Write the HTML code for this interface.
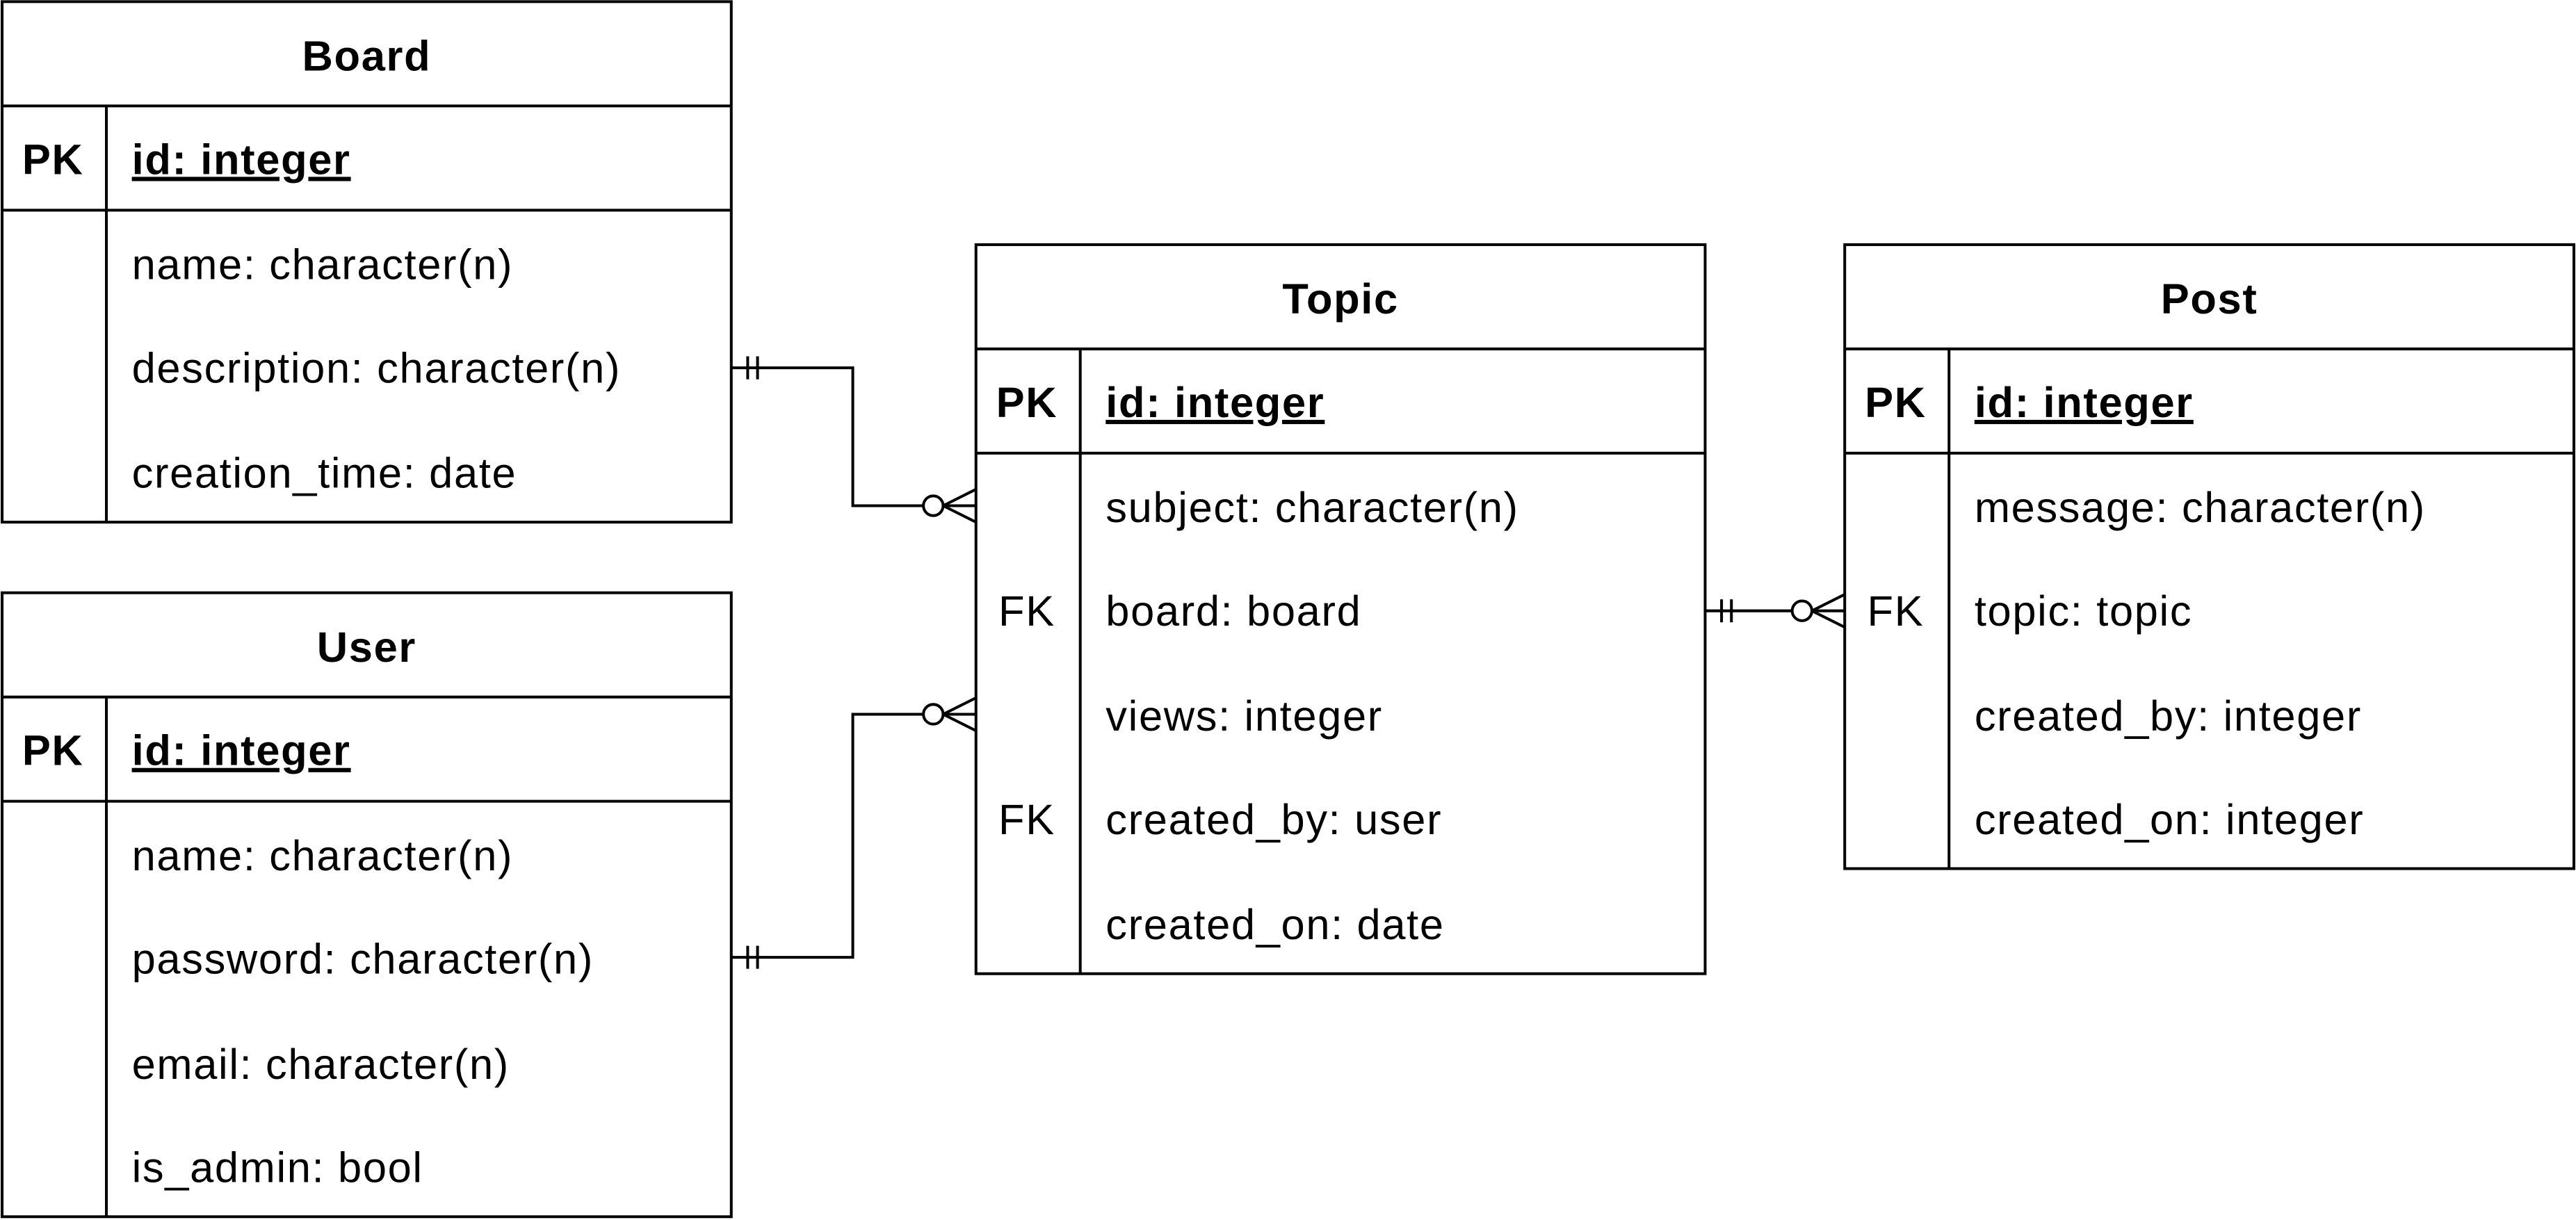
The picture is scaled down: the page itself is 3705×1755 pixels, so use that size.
<!DOCTYPE html>
<html><head><meta charset="utf-8"><style>
html,body{margin:0;padding:0;background:#fff}
svg{display:block}
text{font-family:"Liberation Sans",Arial,sans-serif;font-size:26px;letter-spacing:0.7px;fill:#000}
.b{font-weight:bold}
</style></head><body>
<svg width="3705" height="1755" viewBox="0 0 1568 743" xmlns="http://www.w3.org/2000/svg">
<g fill="none" stroke="#000" stroke-width="1.7">
<rect x="1" y="1" width="444" height="317"/>
<line x1="1" y1="64.5" x2="445" y2="64.5"/><line x1="1" y1="128" x2="445" y2="128"/><line x1="64.5" y1="64.5" x2="64.5" y2="318"/>
<rect x="1" y="361" width="444" height="380"/>
<line x1="1" y1="424.5" x2="445" y2="424.5"/><line x1="1" y1="488" x2="445" y2="488"/><line x1="64.5" y1="424.5" x2="64.5" y2="741"/>
<rect x="594" y="149" width="444" height="444"/>
<line x1="594" y1="212.5" x2="1038" y2="212.5"/><line x1="594" y1="276" x2="1038" y2="276"/><line x1="657.5" y1="212.5" x2="657.5" y2="593"/>
<rect x="1123" y="149" width="444" height="380"/>
<line x1="1123" y1="212.5" x2="1567" y2="212.5"/><line x1="1123" y1="276" x2="1567" y2="276"/><line x1="1186.5" y1="212.5" x2="1186.5" y2="529"/>
<polyline points="445,224 519,224 519,308 594,308"/>
<line x1="455" y1="217" x2="455" y2="231"/><line x1="461" y1="217" x2="461" y2="231"/>
<circle cx="568" cy="308" r="6" fill="#fff"/>
<line x1="574" y1="308" x2="594" y2="298"/><line x1="574" y1="308" x2="594" y2="318"/>
<polyline points="445,583 519,583 519,435 594,435"/>
<line x1="455" y1="576" x2="455" y2="590"/><line x1="461" y1="576" x2="461" y2="590"/>
<circle cx="568" cy="435" r="6" fill="#fff"/>
<line x1="574" y1="435" x2="594" y2="425"/><line x1="574" y1="435" x2="594" y2="445"/>
<line x1="1038" y1="372" x2="1123" y2="372"/>
<line x1="1048" y1="365" x2="1048" y2="379"/><line x1="1054" y1="365" x2="1054" y2="379"/>
<circle cx="1097" cy="372" r="6" fill="#fff"/>
<line x1="1103" y1="372" x2="1123" y2="362"/><line x1="1103" y1="372" x2="1123" y2="382"/>
</g>
<text x="223" y="43" text-anchor="middle" class="b">Board</text>
<text x="32" y="106" text-anchor="middle" class="b">PK</text>
<text x="80" y="106" class="b" text-decoration="underline">id: integer</text>
<text x="80" y="170">name: character(n)</text>
<text x="80" y="233">description: character(n)</text>
<text x="80" y="297">creation_time: date</text>
<text x="223" y="403" text-anchor="middle" class="b">User</text>
<text x="32" y="466" text-anchor="middle" class="b">PK</text>
<text x="80" y="466" class="b" text-decoration="underline">id: integer</text>
<text x="80" y="530">name: character(n)</text>
<text x="80" y="593">password: character(n)</text>
<text x="80" y="657">email: character(n)</text>
<text x="80" y="720">is_admin: bool</text>
<text x="816" y="191" text-anchor="middle" class="b">Topic</text>
<text x="625" y="254" text-anchor="middle" class="b">PK</text>
<text x="673" y="254" class="b" text-decoration="underline">id: integer</text>
<text x="673" y="318">subject: character(n)</text>
<text x="625" y="381" text-anchor="middle">FK</text>
<text x="673" y="381">board: board</text>
<text x="673" y="445">views: integer</text>
<text x="625" y="508" text-anchor="middle">FK</text>
<text x="673" y="508">created_by: user</text>
<text x="673" y="572">created_on: date</text>
<text x="1345" y="191" text-anchor="middle" class="b">Post</text>
<text x="1154" y="254" text-anchor="middle" class="b">PK</text>
<text x="1202" y="254" class="b" text-decoration="underline">id: integer</text>
<text x="1202" y="318">message: character(n)</text>
<text x="1154" y="381" text-anchor="middle">FK</text>
<text x="1202" y="381">topic: topic</text>
<text x="1202" y="445">created_by: integer</text>
<text x="1202" y="508">created_on: integer</text>
</svg>
</body></html>
